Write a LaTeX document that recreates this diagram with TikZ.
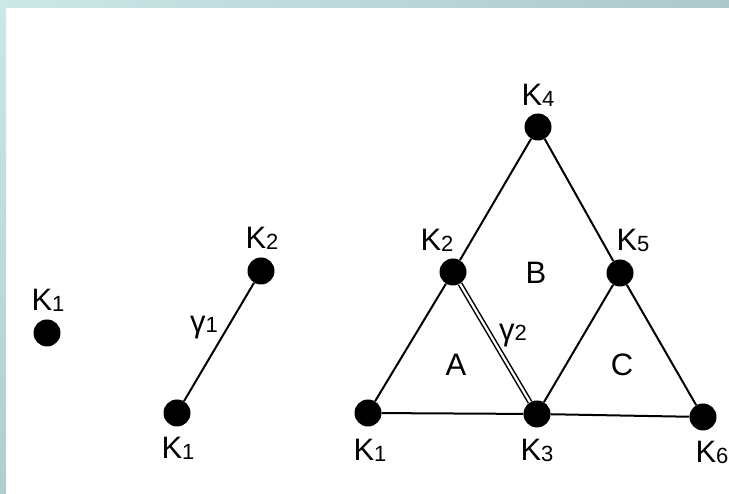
\documentclass[tikz,border=0pt]{standalone}
\usepackage{fontspec}
\setmainfont{Liberation Sans}
\definecolor{frameL}{HTML}{CDE7E7}
\definecolor{frameR}{HTML}{ADC8CB}
\definecolor{frameB}{HTML}{B1CDCE}
\newcommand{\kname}[1]{K\raisebox{-1pt}{\fontsize{22}{22}\selectfont #1}}
\newcommand{\gname}[1]{γ{\fontsize{22}{22}\selectfont #1}}
\begin{document}
\begin{tikzpicture}[
  x=1pt, y=1pt,
  vertex/.style={circle, fill=black, inner sep=0pt, minimum size=27pt},
  tag/.style={font=\fontsize{31}{33}\selectfont, inner sep=0pt},
  link/.style={line width=2pt},
  dual/.style={double, double distance=2.2pt, line width=1.5pt}
]
  \useasboundingbox (0,0) rectangle (729,494);

  % Frame
  \shade[left color=frameL, right color=frameR] (0,486) rectangle (729,494);
  \shade[top color=frameL, bottom color=frameB] (0,0) rectangle (6,486);

  % Single vertex
  \node[vertex] (s1) at (47,161) {};
  \node[tag] (ls1) at (48,194) {\kname{1}};

  % One edge
  \node[vertex] (a1) at (177,81) {};
  \node[vertex] (a2) at (261,223) {};
  \draw[link] (a1) -- (a2);
  \node[tag] (la1) at (178,46) {\kname{1}};
  \node[tag] (la2) at (262,256) {\kname{2}};
  \node[tag] (g1) at (204,166) {\gname{1}};

  % Triangles
  \node[vertex] (t1) at (368,81) {};
  \node[vertex] (t2) at (453,222) {};
  \node[vertex] (t3) at (537,80) {};
  \node[vertex] (t4) at (538,367) {};
  \node[vertex] (t5) at (620,221) {};
  \node[vertex] (t6) at (703,77) {};

  \foreach \i/\j in {t1/t2, t1/t3, t3/t6, t2/t4, t4/t5, t3/t5, t5/t6}
    \draw[link] (\i) -- (\j);
  \draw[dual] (t2) -- (t3);

  % Labels
  \node[tag] (lt1) at (370,44) {\kname{1}};
  \node[tag] (lt2) at (437,254) {\kname{2}};
  \node[tag] (lt3) at (537,44) {\kname{3}};
  \node[tag] (lt4) at (538,399) {\kname{4}};
  \node[tag] (lt5) at (633,254) {\kname{5}};
  \node[tag] (lt6) at (712,42) {\kname{6}};
  \node[tag] (g2) at (513,158) {\gname{2}};
  \node[tag] (fa) at (456,129) {A};
  \node[tag] (fb) at (536,221) {B};
  \node[tag] (fc) at (622,129) {C};
\end{tikzpicture}
\end{document}
